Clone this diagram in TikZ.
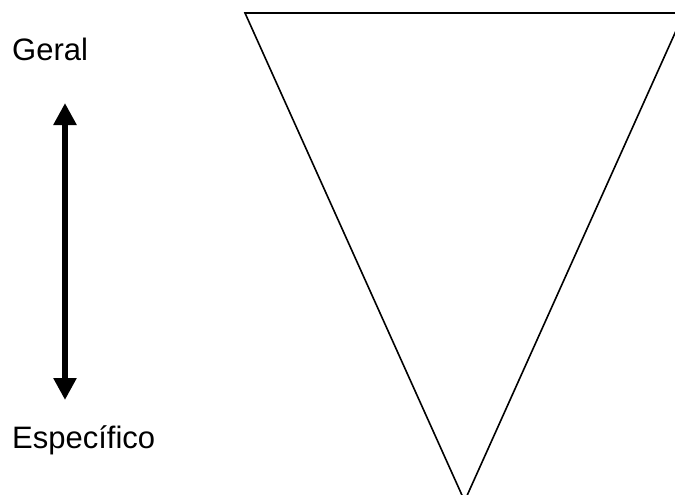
\documentclass[tikz,border=0pt]{standalone}
\usepackage{fontspec}
\setmainfont{Liberation Sans}
\usetikzlibrary{arrows.meta}
\tikzset{
  lbl/.style={anchor=base west, inner sep=0pt, font=\fontsize{31}{37}\selectfont},
  tri/.style={draw=black, line width=1.6pt, line join=miter},
  dblarrow/.style={line width=6pt, {Triangle[width=22pt,length=22pt]}-{Triangle[width=22pt,length=22pt]}}
}
\begin{document}
\begin{tikzpicture}[x=1pt,y=-1pt]
\useasboundingbox (0,0) rectangle (675,495);
\begin{scope}
\clip (0,0) rectangle (675,495);
\coordinate (tl) at (245,13);
\coordinate (tr) at (684,13);
\coordinate (bt) at (464.6,501);
\draw[tri] (tl) -- (tr) -- (bt) -- cycle;
\end{scope}
\coordinate (atop) at (65,103);
\coordinate (abot) at (65,400);
\draw[dblarrow] (atop) -- (abot);
\node[lbl] (geral) at (12,60) {Geral};
\node[lbl] (espec) at (12,448) {Específico};
\end{tikzpicture}
\end{document}
